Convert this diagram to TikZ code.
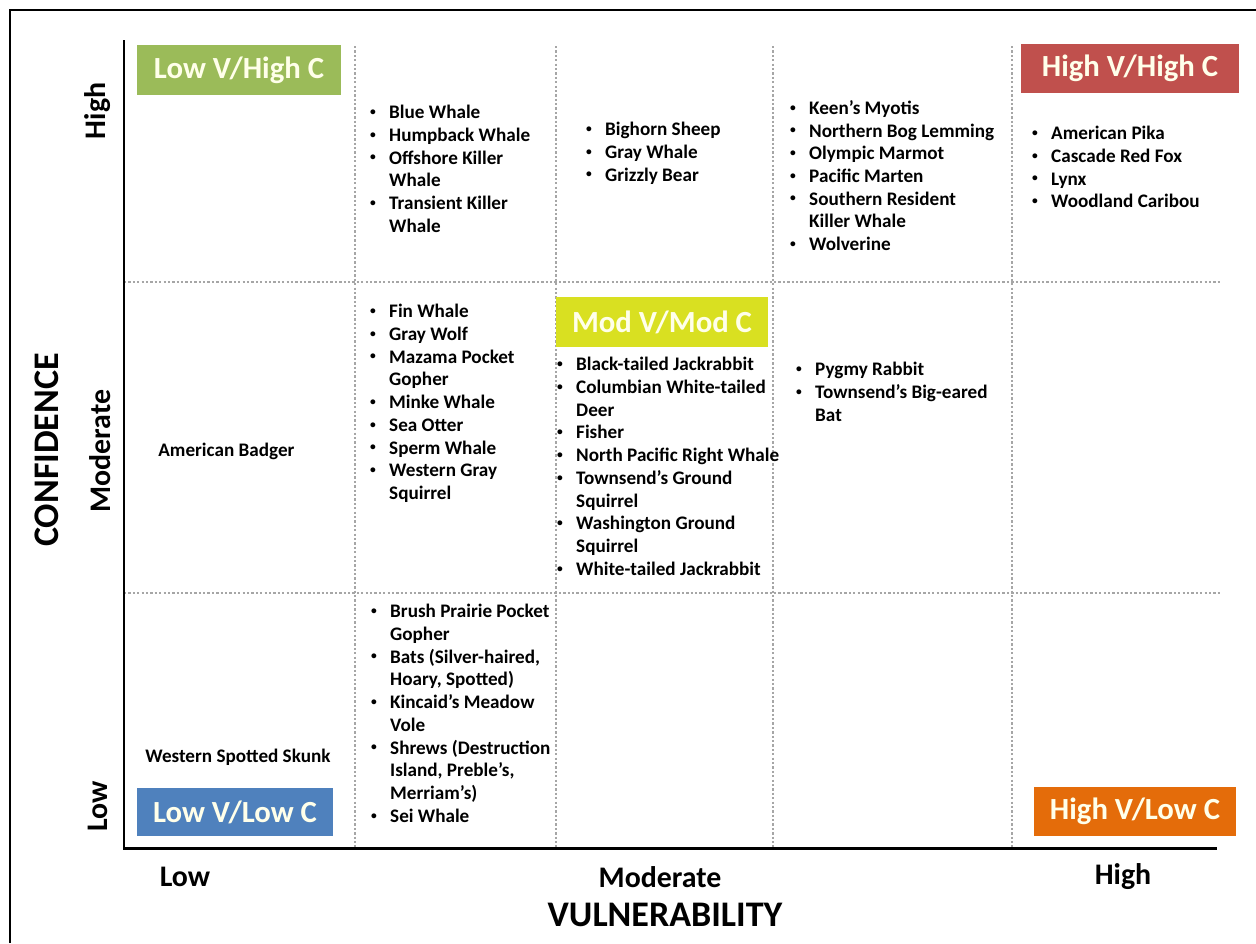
\documentclass[tikz,border=0pt]{standalone}
\usepackage{fontspec}
\usepackage{graphicx}
\setmainfont{Carlito}
\definecolor{lowhigh}{HTML}{9BBB59}
\definecolor{highhigh}{HTML}{C0504D}
\definecolor{modmod}{HTML}{D9E021}
\definecolor{lowlow}{HTML}{4F81BD}
\definecolor{highlow}{HTML}{E46C0A}
\definecolor{boxtext}{HTML}{FFFFEA}
\definecolor{gridgray}{HTML}{A6A6A6}
\newcommand{\bul}{\makebox[11.3pt][l]{\hspace{0.5pt}\raisebox{0.35ex}{\scalebox{0.6}{\textbullet}}}}
\newcommand{\ind}{\hspace*{11.3pt}}

\begin{document}
\begin{tikzpicture}[x=0.02cm,y=-0.02cm,
	quad/.style={fill=#1,text=boxtext,inner sep=0pt,
		font=\fontsize{17.5}{20}\selectfont\bfseries},
	spp/.style={anchor=north west,align=left,inner sep=0pt,
		font=\fontsize{10.9}{12.93}\selectfont\bfseries},
	lone/.style={anchor=west,inner sep=0pt,font=\fontsize{10.9}{12}\selectfont\bfseries},
	tick/.style={inner sep=0pt,font=\fontsize{17}{20}\selectfont\bfseries},
	axtitle/.style={inner sep=0pt,font=\fontsize{20.5}{24}\selectfont\bfseries},
	gridline/.style={gridgray,line width=1.6pt,dash pattern=on 1.3pt off 1.2pt},
	axis/.style={line width=1.7pt}]
	\useasboundingbox (0,0) rectangle (1256,943);
	\draw[line width=1.3pt] (10,943) |- (1256,10);
	
	% dotted grid
	\foreach \gx in {355,556,773,1012}
		\draw[gridline] (\gx,46) -- (\gx,848);
	\foreach \gy in {282,593}
		\draw[gridline] (124,\gy) -- (1220,\gy);
	\draw[axis] (124,40) |- (1217,848);
	
	% corner boxes
	\node[quad=lowhigh,minimum width=4.08cm,minimum height=1cm](lvhc) at (239,70) {Low V/High C};
	\node[quad=highhigh,minimum width=4.36cm,minimum height=0.98cm](hvhc) at (1130,68.5) {High V/High C};
	\node[quad=modmod,minimum width=4.24cm,minimum height=1cm](mvmc) at (662,322) {Mod V/Mod C};
	\node[quad=lowlow,minimum width=3.92cm,minimum height=0.96cm](lvlc) at (235,812) {Low V/Low C};
	\node[quad=highlow,minimum width=4.04cm,minimum height=0.98cm](hvlc) at (1135,811.5) {High V/Low C};
	
	% high confidence
	\node[spp](tophv2) at (369,105) {\bul Blue Whale\\ \bul Humpback Whale\\ \bul Offshore Killer\\ \ind Whale\\
		\bul Transient Killer\\ \ind Whale};
	\node[spp](tophv3) at (585,122) {\bul Bighorn Sheep\\ \bul Gray Whale\\ \bul Grizzly Bear};
	\node[spp](tophv4) at (789,100) {\bul Keen’s Myotis\\ \bul Northern Bog Lemming\\ \bul Olympic Marmot\\
		\bul Pacific Marten\\ \bul Southern Resident\\ \ind Killer Whale\\ \bul Wolverine};
	\node[spp](tophv5) at (1031,126) {\bul American Pika\\ \bul Cascade Red Fox\\ \bul Lynx\\ \bul Woodland Caribou};
	
	% moderate confidence
	\node[lone](modv1) at (158,451) {American Badger};
	\node[spp](modv2) at (369,304) {\bul Fin Whale\\ \bul Gray Wolf\\ \bul Mazama Pocket\\ \ind Gopher\\
		\bul Minke Whale\\ \bul Sea Otter\\ \bul Sperm Whale\\ \bul Western Gray\\ \ind Squirrel};
	\node[spp](modv3) at (556,357) {\bul Black-tailed Jackrabbit\\ \bul Columbian White-tailed\\ \ind Deer\\
		\bul Fisher\\ \bul North Pacific Right Whale\\ \bul Townsend’s Ground\\ \ind Squirrel\\
		\bul Washington Ground\\ \ind Squirrel\\ \bul White-tailed Jackrabbit};
	\node[spp](modv4) at (795,362) {\bul Pygmy Rabbit\\ \bul Townsend’s Big-eared\\ \ind Bat};
	
	% low confidence
	\node[lone](lowv1) at (145,757) {Western Spotted Skunk};
	\node[spp](lowv2) at (370,604) {\bul Brush Prairie Pocket\\ \ind Gopher\\ \bul Bats (Silver-haired,\\
		\ind Hoary, Spotted)\\ \bul Kincaid’s Meadow\\ \ind Vole\\ \bul Shrews (Destruction\\
		\ind Island, Preble’s,\\ \ind Merriam’s)\\ \bul Sei Whale};
	
	% axis labels
	\node[tick,rotate=90](chigh) at (98,111) {High};
	\node[tick,rotate=90](cmod) at (100,451) {Moderate};
	\node[tick,rotate=90](clow) at (98,806) {Low};
	\node[axtitle,rotate=90](conf) at (47,450) {CONFIDENCE};
	\node[tick](vlow) at (185,877) {Low};
	\node[tick](vmod) at (660,877) {Moderate};
	\node[tick](vhigh) at (1123,877) {High};
	\node[axtitle](vuln) at (665,915) {VULNERABILITY};
\end{tikzpicture}
\end{document}
